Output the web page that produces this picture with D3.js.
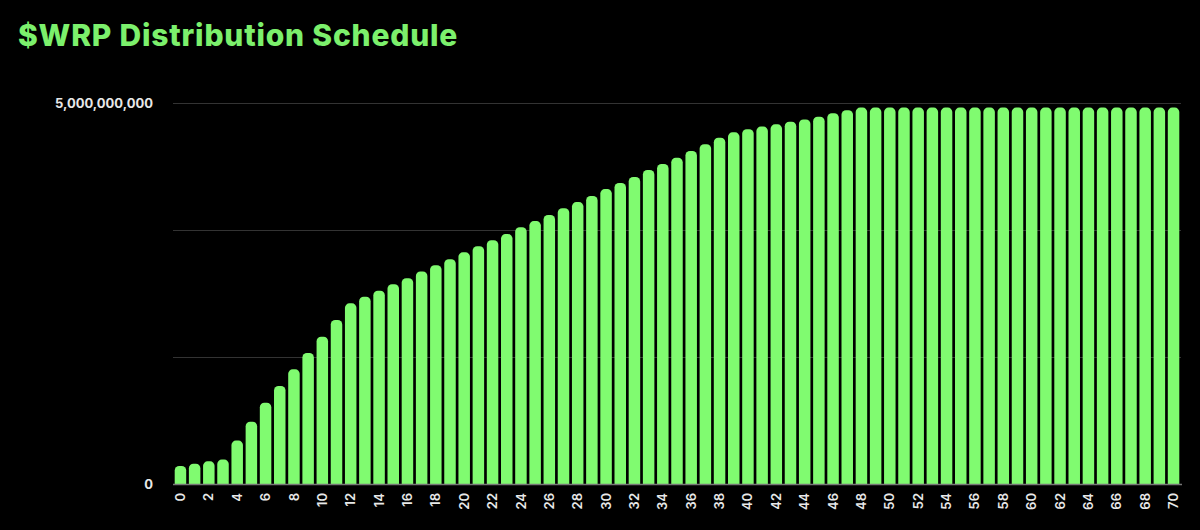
<!DOCTYPE html>
<html>
<head>
<meta charset="utf-8">
<script src="https://cdn.jsdelivr.net/npm/d3@7"></script>
<style>
  html, body { margin: 0; padding: 0; background: #000; }
  svg { display: block; }
</style>
</head>
<body>
<svg id="chart" width="1200" height="530"></svg>
<script>
const title = "$WRP Distribution Schedule";

const categories = [
  0,1,2,3,4,5,6,7,8,9,10,11,12,13,14,15,16,17,18,19,20,
  21,22,23,24,25,26,27,28,29,30,31,32,33,34,35,36,37,38,39,40,
  41,42,43,44,45,46,47,48,49,50,51,52,53,54,55,56,57,58,59,60,
  61,62,63,64,65,66,67,68,69,70
];

const distributed = [
  236000000, 267000000, 297000000, 320000000, 570000000, 818000000,
  1067000000, 1286000000, 1505000000, 1719000000, 1933000000, 2152000000,
  2371000000, 2458000000, 2537000000, 2621000000, 2700000000, 2790000000,
  2870000000, 2950000000, 3040000000, 3120000000, 3200000000, 3280000000,
  3370000000, 3450000000, 3530000000, 3620000000, 3700000000, 3780000000,
  3870000000, 3950000000, 4030000000, 4120000000, 4200000000, 4280000000,
  4370000000, 4460000000, 4545000000, 4615000000, 4655000000, 4690000000,
  4720000000, 4755000000, 4785000000, 4820000000, 4865000000, 4905000000,
  4940000000, 4940000000, 4940000000, 4940000000, 4940000000, 4940000000,
  4940000000, 4940000000, 4940000000, 4940000000, 4940000000, 4940000000,
  4940000000, 4940000000, 4940000000, 4940000000, 4940000000, 4940000000,
  4940000000, 4940000000, 4940000000, 4940000000, 4940000000
];

const yTickValues = [0, 1666666667, 3333333333, 5000000000];
const yTickLabels = ["0", "", "", "5,000,000,000"];

const xTickLabels = [
  "0","2","4","6","8","10","12","14","16","18","20","22","24","26","28","30",
  "32","34","36","38","40","42","44","46","48","50","52","54","56","58","60",
  "62","64","66","68","70"
];

const svg = d3.select("#chart");
const W = 1200, H = 530;
const margin = { left: 173, right: 19, top: 103, bottom: 46 };
const innerBottom = H - margin.bottom; // 484

svg.append("rect").attr("width", W).attr("height", H).attr("fill", "#000");

svg.append("text")
  .attr("x", 18).attr("y", 46)
  .attr("fill", "#7cf06c")
  .attr("font-family", "Inter, 'Open Sans', sans-serif")
  .attr("font-weight", 800)
  .attr("font-size", 30)
  .attr("letter-spacing", "0.8")
  .text(title);

const x = d3.scaleBand()
  .domain(categories)
  .range([margin.left, W - margin.right])
  .paddingInner(0.19)
  .paddingOuter(0.12);

const y = d3.scaleLinear()
  .domain([0, 5000000000])
  .range([innerBottom, margin.top]);

// gridlines
const yAxis = d3.axisLeft(y)
  .tickValues(yTickValues)
  .tickSize(-(W - margin.right - margin.left))
  .tickPadding(20)
  .tickFormat((d, i) => yTickLabels[i]);

const gy = svg.append("g")
  .attr("transform", `translate(${margin.left},0)`)
  .call(yAxis);
gy.select(".domain").remove();
gy.selectAll(".tick line").attr("stroke", "#333").attr("stroke-width", 1);
gy.selectAll(".tick text")
  .attr("fill", "#e8e8e8")
  .attr("font-family", "Inter, 'Open Sans', sans-serif")
  .attr("font-weight", 700)
  .attr("font-size", 13);

// bars with rounded tops
const r = 4.5;
svg.append("g").selectAll("path")
  .data(categories)
  .join("path")
  .attr("fill", "#80fb70")
  .attr("d", (c, i) => {
    const x0 = x(c), w = x.bandwidth();
    const yt = y(distributed[i]), yb = y(0);
    const p = d3.path();
    p.moveTo(x0, yb);
    p.lineTo(x0, yt + r);
    p.arcTo(x0, yt, x0 + r, yt, r);
    p.lineTo(x0 + w - r, yt);
    p.arcTo(x0 + w, yt, x0 + w, yt + r, r);
    p.lineTo(x0 + w, yb);
    p.closePath();
    return p.toString();
  });

// x axis
const xAxis = d3.axisBottom(x)
  .tickValues(categories.filter(c => xTickLabels.includes(String(c))))
  .tickSize(0)
  .tickPadding(0)
  .tickFormat(d => String(d));

const gx = svg.append("g")
  .attr("transform", `translate(0,${innerBottom})`)
  .call(xAxis);
gx.select(".domain")
  .attr("stroke", "#777")
  .attr("stroke-width", 1.5)
  .attr("d", `M${margin.left},0.5H${W - margin.right + 1}`);
gx.selectAll(".tick text")
  .attr("fill", "#e8e8e8")
  .attr("font-family", "Inter, 'Open Sans', sans-serif")
  .attr("font-weight", 600)
  .attr("font-size", 13)
  .attr("text-anchor", "end")
  .attr("dy", "0.35em")
  .attr("transform", "translate(0,9) rotate(-90)")
  .attr("y", 0)
  .attr("x", 0);
</script>
</body>
</html>
